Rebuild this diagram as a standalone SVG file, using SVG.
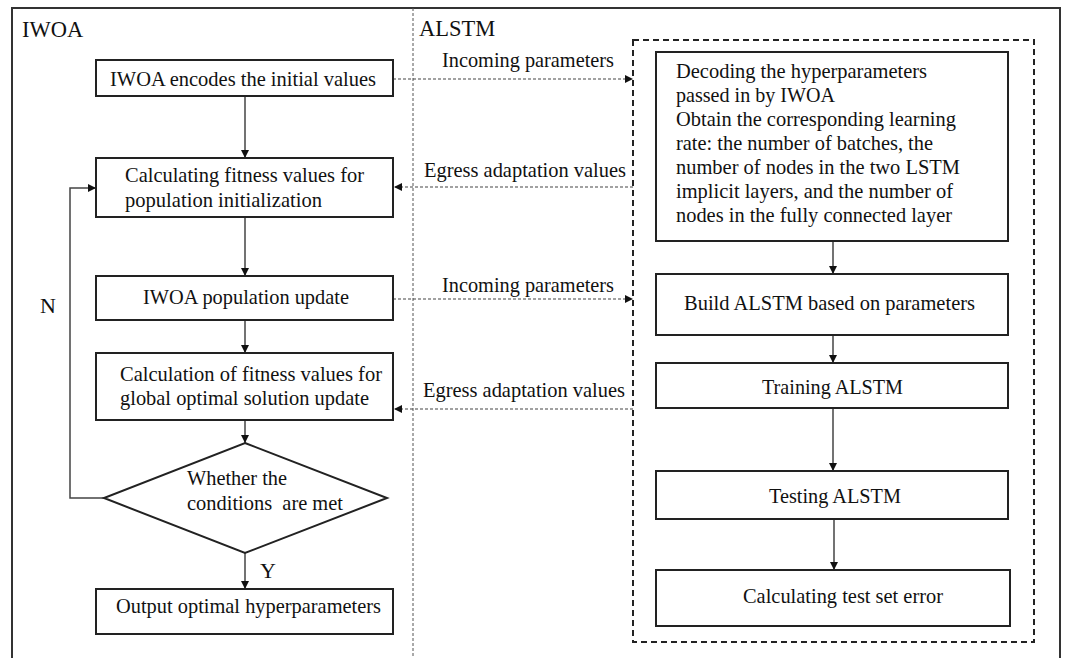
<svg xmlns="http://www.w3.org/2000/svg" width="1067" height="658" viewBox="0 0 1067 658">
<defs>
<style>
.t{font-family:"Liberation Serif","Times New Roman",serif;font-size:22px;fill:#111}
.h{font-family:"Liberation Serif","Times New Roman",serif;font-size:22.5px;fill:#111}
.box{fill:#fff;stroke:#222;stroke-width:2}
.ar{fill:none;stroke:#444;stroke-width:1.5}
.dot{fill:none;stroke:#444;stroke-width:1.2;stroke-dasharray:3 2}
</style>
<marker id="ah" viewBox="0 0 10 10" refX="10" refY="5" markerWidth="8" markerHeight="8" markerUnits="userSpaceOnUse" orient="auto">
<path d="M0,0 L10,5 L0,10 z" fill="#111"/>
</marker>
</defs>
<rect width="1067" height="658" fill="#fff"/>
<g id="frame">
<rect x="12" y="8" width="1048" height="670" fill="none" stroke="#333" stroke-width="2"/>
<line x1="413" y1="8" x2="413" y2="658" stroke="#555" stroke-width="1" stroke-dasharray="3 2"/>
<text class="h" x="22" y="37">IWOA</text>
<text class="h" x="419" y="36">ALSTM</text>
<rect x="633" y="40" width="401" height="602" fill="none" stroke="#222" stroke-width="2" stroke-dasharray="6 4"/>
</g>
<g id="connectors">
<line class="ar" x1="245" y1="96" x2="245" y2="158" marker-end="url(#ah)"/>
<line class="ar" x1="245" y1="217" x2="245" y2="276" marker-end="url(#ah)"/>
<line class="ar" x1="245" y1="320" x2="245" y2="353" marker-end="url(#ah)"/>
<line class="ar" x1="245" y1="420" x2="245" y2="443" marker-end="url(#ah)"/>
<line class="ar" x1="245" y1="553" x2="245" y2="589" marker-end="url(#ah)"/>
<polyline class="ar" points="104,498 70,498 70,188 96,188" marker-end="url(#ah)"/>
<line class="ar" x1="833" y1="241" x2="833" y2="274" marker-end="url(#ah)"/>
<line class="ar" x1="833" y1="335" x2="833" y2="363" marker-end="url(#ah)"/>
<line class="ar" x1="833" y1="408" x2="833" y2="471" marker-end="url(#ah)"/>
<line class="ar" x1="834" y1="519" x2="834" y2="570" marker-end="url(#ah)"/>
<line class="dot" x1="393" y1="79" x2="633" y2="79" marker-end="url(#ah)"/>
<line class="dot" x1="633" y1="187" x2="394" y2="187" marker-end="url(#ah)"/>
<line class="dot" x1="393" y1="299" x2="633" y2="299" marker-end="url(#ah)"/>
<line class="dot" x1="633" y1="409" x2="394" y2="409" marker-end="url(#ah)"/>
<text class="t" x="442" y="67" textLength="172" lengthAdjust="spacingAndGlyphs">Incoming parameters</text>
<text class="t" x="424" y="177" textLength="202" lengthAdjust="spacingAndGlyphs">Egress adaptation values</text>
<text class="t" x="442" y="292" textLength="172" lengthAdjust="spacingAndGlyphs">Incoming parameters</text>
<text class="t" x="423" y="397" textLength="202" lengthAdjust="spacingAndGlyphs">Egress adaptation values</text>
<text class="t" x="40" y="313">N</text>
<text class="t" x="260" y="578">Y</text>
</g>
<g id="n1">
<rect class="box" x="96" y="60" width="297" height="36"/>
<text class="t" x="110" y="86" textLength="266" lengthAdjust="spacingAndGlyphs">IWOA encodes the initial values</text>
</g>
<g id="n2">
<rect class="box" x="96" y="158" width="297" height="59"/>
<text class="t" x="125" y="182" textLength="239" lengthAdjust="spacingAndGlyphs">Calculating fitness values for</text>
<text class="t" x="125" y="207" textLength="197" lengthAdjust="spacingAndGlyphs">population initialization</text>
</g>
<g id="n3">
<rect class="box" x="96" y="276" width="297" height="44"/>
<text class="t" x="143" y="304" textLength="206" lengthAdjust="spacingAndGlyphs">IWOA population update</text>
</g>
<g id="n4">
<rect class="box" x="96" y="353" width="297" height="67"/>
<text class="t" x="120" y="381" textLength="262" lengthAdjust="spacingAndGlyphs">Calculation of fitness values for</text>
<text class="t" x="120" y="405" textLength="249" lengthAdjust="spacingAndGlyphs">global optimal solution update</text>
</g>
<g id="n5">
<polygon class="box" points="245,443 387,498 245,553 104,498"/>
<text class="t" x="187" y="485" textLength="100" lengthAdjust="spacingAndGlyphs">Whether the</text>
<text class="t" x="187" y="510" xml:space="preserve" textLength="156" lengthAdjust="spacingAndGlyphs">conditions  are met</text>
</g>
<g id="n6">
<rect class="box" x="96" y="589" width="297" height="45"/>
<text class="t" x="116" y="613" textLength="265" lengthAdjust="spacingAndGlyphs">Output optimal hyperparameters</text>
</g>
<g id="m1">
<rect class="box" x="656" y="52" width="352" height="189"/>
<text class="t" x="676" y="78" textLength="251" lengthAdjust="spacingAndGlyphs">Decoding the hyperparameters</text>
<text class="t" x="676" y="102" textLength="159" lengthAdjust="spacingAndGlyphs">passed in by IWOA</text>
<text class="t" x="676" y="126" textLength="280" lengthAdjust="spacingAndGlyphs">Obtain the corresponding learning</text>
<text class="t" x="676" y="150" textLength="257" lengthAdjust="spacingAndGlyphs">rate: the number of batches, the</text>
<text class="t" x="676" y="174" textLength="284" lengthAdjust="spacingAndGlyphs">number of nodes in the two LSTM</text>
<text class="t" x="676" y="198" textLength="277" lengthAdjust="spacingAndGlyphs">implicit layers, and the number of</text>
<text class="t" x="676" y="222" textLength="276" lengthAdjust="spacingAndGlyphs">nodes in the fully connected layer</text>
</g>
<g id="m2">
<rect class="box" x="656" y="274" width="352" height="61"/>
<text class="t" x="684" y="310" textLength="291" lengthAdjust="spacingAndGlyphs">Build ALSTM based on parameters</text>
</g>
<g id="m3">
<rect class="box" x="656" y="363" width="352" height="45"/>
<text class="t" x="762" y="394" textLength="141" lengthAdjust="spacingAndGlyphs">Training ALSTM</text>
</g>
<g id="m4">
<rect class="box" x="656" y="471" width="352" height="48"/>
<text class="t" x="769" y="503" textLength="132" lengthAdjust="spacingAndGlyphs">Testing ALSTM</text>
</g>
<g id="m5">
<rect class="box" x="656" y="570" width="354" height="56"/>
<text class="t" x="743" y="603" textLength="200" lengthAdjust="spacingAndGlyphs">Calculating test set error</text>
</g>
</svg>
